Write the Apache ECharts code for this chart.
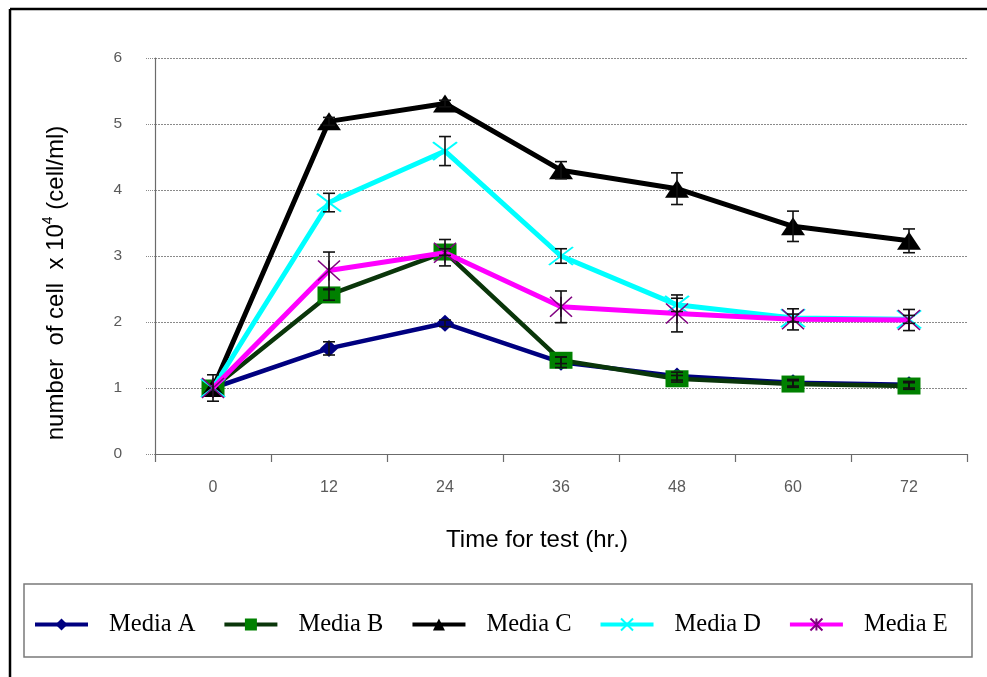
<!DOCTYPE html>
<html>
<head>
<meta charset="utf-8">
<script src="https://cdn.jsdelivr.net/npm/echarts@6/dist/echarts.min.js"></script>
<style>
html,body{margin:0;padding:0;background:#fff;}
#chart{width:987px;height:677px;}
</style>
</head>
<body>
<div id="chart"></div>
<script>
// ---- data ----
var hours = ['0', '12', '24', '36', '48', '60', '72'];
var yTicks = [0, 1, 2, 3, 4, 5, 6];
var seriesNames = ['Media A', 'Media B', 'Media C', 'Media D', 'Media E'];

var mediaA = [1.00, 1.60, 1.98, 1.39, 1.18, 1.08, 1.05];
var mediaB = [1.00, 2.41, 3.06, 1.42, 1.14, 1.06, 1.03];
var mediaC = [1.00, 5.04, 5.31, 4.30, 4.02, 3.45, 3.23];
var mediaD = [1.00, 3.81, 4.59, 3.00, 2.26, 2.06, 2.04];
var mediaE = [1.00, 2.78, 3.05, 2.23, 2.13, 2.04, 2.03];

// +/- error (half-range) for each point
var errA = [0.20, 0.10, 0.05, 0.08, 0.06, 0.05, 0.05];
var errB = [0.00, 0.08, 0.05, 0.05, 0.05, 0.05, 0.05];
var errC = [0.00, 0.06, 0.05, 0.13, 0.24, 0.23, 0.18];
var errD = [0.00, 0.14, 0.22, 0.11, 0.10, 0.06, 0.06];
var errE = [0.00, 0.28, 0.20, 0.24, 0.28, 0.16, 0.16];

var yTitleMain = 'number  of cell  x 10';
var yTitleSup = '4';
var yTitleEnd = ' (cell/ml)';
var xTitle = 'Time for test (hr.)';

// ---- build ----
var chart = echarts.init(document.getElementById('chart'), null, {renderer: 'canvas'});

function errData(vals, errs) {
  var out = [];
  for (var i = 0; i < vals.length; i++) {
    if (errs[i] > 0) out.push([i, vals[i] - errs[i], vals[i] + errs[i]]);
  }
  return out;
}
var allErr = [].concat(
  errData(mediaA, errA), errData(mediaB, errB), errData(mediaC, errC),
  errData(mediaD, errD), errData(mediaE, errE)
);

var xPath = 'path://M0,0L10,10M10,0L0,10';
var starPath = 'path://M0,0L10,10M10,0L0,10M5,0L5,10';

var option = {
  animation: false,
  backgroundColor: '#ffffff',
  grid: {left: 155, right: 20, top: 58, bottom: 223, containLabel: false},
  xAxis: {
    type: 'category',
    data: hours,
    boundaryGap: true,
    axisLine: {show: true, lineStyle: {color: '#6b6b6b', width: 1.2}},
    axisTick: {show: true, length: 8, inside: false, lineStyle: {color: '#6b6b6b', width: 1.2}},
    axisLabel: {margin: 26, color: '#5a5a5a', fontSize: 16, fontFamily: 'Liberation Sans, Arial, sans-serif'},
    splitLine: {show: false}
  },
  yAxis: {
    type: 'value',
    min: yTicks[0],
    max: yTicks[yTicks.length - 1],
    interval: 1,
    axisLine: {show: true, lineStyle: {color: '#6b6b6b', width: 1.2}},
    axisTick: {show: true, length: 10, lineStyle: {color: '#8a8a8a', width: 1, type: 'dotted'}},
    axisLabel: {margin: 33, color: '#5a5a5a', fontSize: 15.5, fontFamily: 'Liberation Sans, Arial, sans-serif'},
    splitLine: {show: true, lineStyle: {color: '#8a8a8a', width: 1, type: [2, 1]}}
  },
  legend: {
    data: seriesNames,
    left: 28,
    top: 607,
    itemWidth: 53,
    itemHeight: 15,
    itemGap: 27,
    lineStyle: {width: 4},
    textStyle: {fontFamily: 'Liberation Serif, Times New Roman, serif', fontSize: 24.5, color: '#000', padding: [0, 0, 0, 16]}
  },
  graphic: [
    {type: 'line', shape: {x1: 10, y1: 9, x2: 987, y2: 9}, style: {stroke: '#000', lineWidth: 2.5}, silent: true},
    {type: 'line', shape: {x1: 10, y1: 9, x2: 10, y2: 677}, style: {stroke: '#000', lineWidth: 2.5}, silent: true},
    {type: 'rect', shape: {x: 24, y: 584, width: 948, height: 73}, style: {fill: 'none', stroke: '#7a7a7a', lineWidth: 1.5}, silent: true, z: -1},
    {
      type: 'text', x: 537, y: 540, silent: true,
      style: {text: xTitle, fontFamily: 'Liberation Sans, Arial, sans-serif', fontSize: 24, fill: '#000', align: 'center', verticalAlign: 'middle'}
    },
    {
      type: 'text', x: 55, y: 283, rotation: Math.PI / 2, silent: true,
      style: {
        text: '{m|' + yTitleMain + '}{s|' + yTitleSup + '}{m|' + yTitleEnd + '}',
        align: 'center', verticalAlign: 'middle',
        rich: {
          m: {fontFamily: 'Liberation Sans, Arial, sans-serif', fontSize: 24, fill: '#000', verticalAlign: 'bottom'},
          s: {fontFamily: 'Liberation Sans, Arial, sans-serif', fontSize: 14, fill: '#000', verticalAlign: 'top', padding: [0, 0, 13, 0]}
        }
      }
    }
  ],
  series: [
    {
      name: seriesNames[0], type: 'line', data: mediaA, z: 2,
      symbol: 'diamond', symbolSize: [18, 17],
      lineStyle: {color: '#000080', width: 4.5},
      itemStyle: {color: '#000080'}
    },
    {
      name: seriesNames[1], type: 'line', data: mediaB, z: 3,
      symbol: 'rect', symbolSize: [23, 17],
      lineStyle: {color: '#0a360a', width: 4.5},
      itemStyle: {color: '#008000'}
    },
    {
      name: seriesNames[2], type: 'line', data: mediaC, z: 4,
      symbol: 'triangle', symbolSize: [24, 18],
      lineStyle: {color: '#000000', width: 5},
      itemStyle: {color: '#000000'}
    },
    {
      name: seriesNames[3], type: 'line', data: mediaD, z: 5,
      symbol: xPath, symbolSize: [24, 18],
      lineStyle: {color: '#00ffff', width: 5},
      itemStyle: {color: '#00ffff', borderColor: '#00ffff', borderWidth: 2}
    },
    {
      name: seriesNames[4], type: 'line', data: mediaE, z: 6,
      symbol: starPath, symbolSize: [22, 20],
      lineStyle: {color: '#ff00ff', width: 5},
      itemStyle: {color: '#800080', borderColor: '#800080', borderWidth: 1.5}
    },
    {
      name: 'errors', type: 'custom', z: 10, silent: true,
      data: allErr,
      encode: {x: 0, y: [1, 2]},
      renderItem: function (params, api) {
        var idx = api.value(0);
        var lo = api.coord([idx, api.value(1)]);
        var hi = api.coord([idx, api.value(2)]);
        var hw = 6;
        var st = {stroke: '#111', lineWidth: 1.6, fill: null};
        return {
          type: 'group',
          children: [
            {type: 'line', shape: {x1: lo[0], y1: lo[1], x2: hi[0], y2: hi[1]}, style: st},
            {type: 'line', shape: {x1: lo[0] - hw, y1: lo[1], x2: lo[0] + hw, y2: lo[1]}, style: st},
            {type: 'line', shape: {x1: hi[0] - hw, y1: hi[1], x2: hi[0] + hw, y2: hi[1]}, style: st}
          ]
        };
      }
    }
  ]
};
chart.setOption(option);
</script>
</body>
</html>
